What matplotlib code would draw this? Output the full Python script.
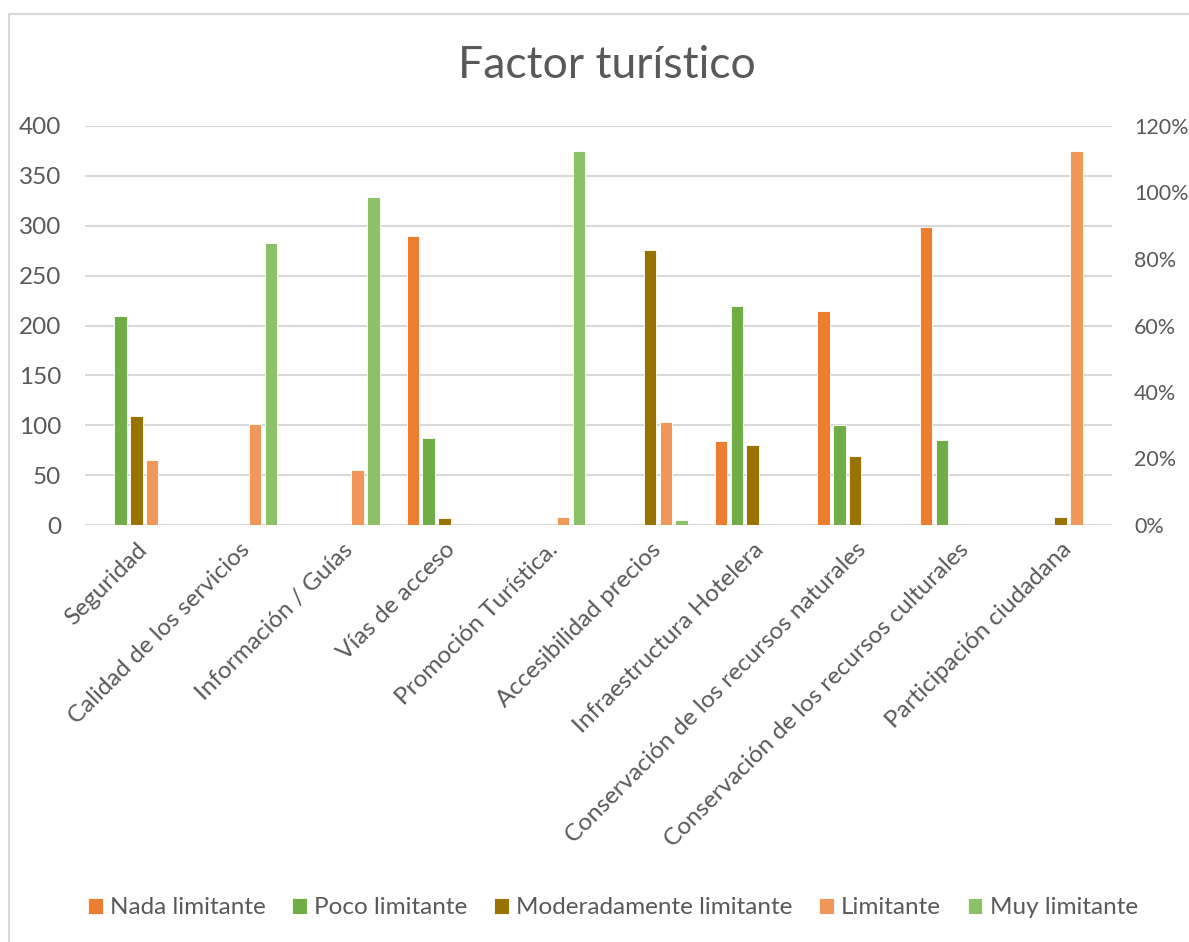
import numpy as np
import matplotlib
matplotlib.use("Agg")
import matplotlib.pyplot as plt
from matplotlib.patches import Rectangle

plt.rcParams['font.family'] = ['Lato', 'DejaVu Sans']

categorias = ['Seguridad', 'Calidad de los servicios', 'Información / Guías',
              'Vías de acceso', 'Promoción Turística.', 'Accesibilidad precios',
              'Infraestructura Hotelera', 'Conservación de los recursos naturales',
              'Conservación de los recursos culturales', 'Participación ciudadana']

nada = [0, 0, 0, 290, 0, 0, 84, 215, 299, 0]
poco = [210, 0, 0, 87, 0, 0, 220, 100, 85, 0]
moderado = [109, 0, 0, 7, 0, 276, 80, 69, 0, 8]
limitante = [65, 101, 55, 0, 8, 103, 0, 0, 0, 375]
muy = [0, 283, 329, 0, 375, 5, 0, 0, 0, 0]

series = [('Nada limitante', nada, '#ED7D31'),
          ('Poco limitante', poco, '#70AD47'),
          ('Moderadamente limitante', moderado, '#997300'),
          ('Limitante', limitante, '#F1975A'),
          ('Muy limitante', muy, '#8CC168')]

gris = '#595959'
fig = plt.figure(figsize=(11.89, 9.42), dpi=100)
fig.patches.append(Rectangle((9/1189, -0.01), 1.02, (942-14)/942 + 0.01,
                             transform=fig.transFigure, fill=False,
                             edgecolor='#D9D9D9', linewidth=1.5))

ax = fig.add_axes([85/1189, (942-525)/942, (1112-85)/1189, 399/942])
x = np.arange(len(categorias))
paso = 0.154
ancho = 0.12
for i, (nombre, vals, col) in enumerate(series):
    ax.bar(x + (i - 2)*paso, vals, ancho, color=col, label=nombre,
           edgecolor='white', linewidth=0.6, zorder=3)

ax.set_xlim(-0.5, 9.5)
ax.set_ylim(0, 400)
ax.set_yticks(range(0, 401, 50))
ax.grid(axis='y', color='#D9D9D9', linewidth=1.5, zorder=0)
for s in ax.spines.values():
    s.set_visible(False)
ax.axhline(0, color='#D9D9D9', linewidth=1.5, zorder=1)
ax.tick_params(axis='both', length=0, labelsize=17.5, colors=gris)
ax.tick_params(axis='y', pad=17)
ax.set_xticks(x)
ax.set_xticklabels(categorias, rotation=45, ha='right', rotation_mode='anchor')
ax.tick_params(axis='x', pad=10)

ax2 = ax.twinx()
ax2.set_ylim(0, 1.2)
ax2.set_yticks(np.arange(0, 1.21, 0.2))
ax2.set_yticklabels([f'{int(round(v*100))}%' for v in np.arange(0, 1.21, 0.2)])
ax2.tick_params(axis='y', length=0, labelsize=15.5, colors=gris, pad=16)
for s in ax2.spines.values():
    s.set_visible(False)

fig.text(607/1189, 1 - 66/942, 'Factor turístico', ha='center', va='center',
         fontsize=32, color=gris)

h, l = ax.get_legend_handles_labels()
fig.legend(h, l, loc='center', bbox_to_anchor=(613/1189, 1 - 908/942), ncol=5,
           frameon=False, fontsize=17.5, labelcolor=gris, handlelength=0.6,
           handleheight=0.6, handletextpad=0.3, columnspacing=1.1)

fig.savefig('out.png', dpi=100, facecolor='white')
